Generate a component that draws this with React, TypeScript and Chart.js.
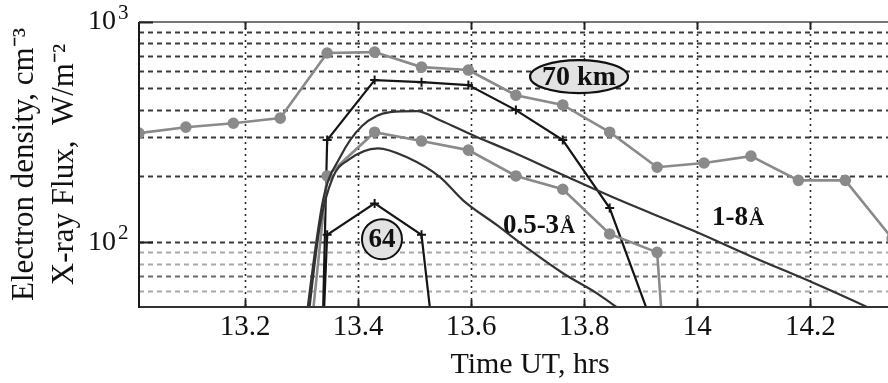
import React, { useEffect, useRef } from 'react';
import { Chart, registerables } from 'chart.js';

Chart.register(...registerables);

// ---- data ----
const markerTimes = [13.012, 13.095, 13.179, 13.262, 13.345, 13.429, 13.512, 13.595, 13.679, 13.762, 13.845, 13.929, 14.012, 14.095, 14.179, 14.262, 14.345];
const grayUpperValues = [313, 333, 347, 366, 723, 730, 624, 605, 465, 420, 316, 219, 229, 246, 191, 191, 104];
const grayLowerTimes = markerTimes.slice(3, 13);
const grayLowerValues = [1.8, 200, 316, 288, 262, 200, 174, 109, 90, 0.1];
const blackUpperTimes = markerTimes.slice(3, 12);
const blackUpperValues = [3e-7, 291, 545, 533, 517, 398, 291, 143, 37];
const blackLowerTimes = markerTimes.slice(3, 8);
const blackLowerValues = [0.0007, 108, 150, 108, 1.5];

const flux18Times = [13.2985, 13.3377, 13.3678, 13.4067, 13.4563, 13.504, 13.5447, 13.6031, 13.6739, 13.7624, 13.8633, 13.9925, 14.0987, 14.2032, 14.3023, 14.359];
const flux18Values = [29, 155, 243, 337, 390, 394, 358, 306, 256, 202, 155, 113, 85.5, 65.8, 50.6, 43.3];
const flux053Times = [13.306, 13.3323, 13.3553, 13.382, 13.435, 13.4863, 13.5447, 13.5855, 13.6456, 13.704, 13.7624, 13.8226, 13.858, 13.8987];
const flux053Values = [34, 119.5, 197.5, 236, 267, 243, 197.5, 155, 119.5, 92, 72.3, 58.6, 50.6, 43.3];

const xTickValues = [13.2, 13.4, 13.6, 13.8, 14.0, 14.2];
const xTickLabels = ['13.2', '13.4', '13.6', '13.8', '14', '14.2'];
const yTickValues = [60, 70, 80, 90, 100, 200, 300, 400, 500, 600, 700, 800, 900, 1000];
const yLabeledValues = [100, 1000];
const yLabelExponents = ['2', '3'];

const FONT = '"Liberation Serif", "Times New Roman", serif';

const pts = (t: number[], v: number[]) => t.map((x, i) => ({ x, y: v[i] }));

const gridPlugin = {
  id: 'customGrid',
  beforeDatasetsDraw(chart: any) {
    const { ctx, chartArea: a, scales } = chart;
    const x = scales.x, y = scales.y;
    ctx.save();
    y.ticks.forEach((t: any) => {
      const v = t.value;
      if (v >= 1000) return;
      const py = Math.round(y.getPixelForValue(v)) + 0.5;
      let col = '#3a3a3a';
      if (v === 60 || v === 80 || v === 90) col = '#a8a8a8';
      if (v === 70) col = '#6a6a6a';
      ctx.strokeStyle = col;
      ctx.lineWidth = 2;
      ctx.setLineDash([5, 4]);
      ctx.beginPath();
      ctx.moveTo(a.left, py);
      ctx.lineTo(a.right, py);
      ctx.stroke();
    });
    x.ticks.forEach((t: any) => {
      const px = Math.round(x.getPixelForValue(t.value)) + 0.5;
      ctx.strokeStyle = '#2a2a2a';
      ctx.lineWidth = 1.6;
      ctx.setLineDash([2, 4]);
      ctx.beginPath();
      ctx.moveTo(px, a.top);
      ctx.lineTo(px, a.bottom);
      ctx.stroke();
    });
    ctx.restore();
  },
};

const decorPlugin = {
  id: 'decor',
  afterDatasetsDraw(chart: any) {
    const { ctx, chartArea: a, scales } = chart;
    const x = scales.x, y = scales.y;
    ctx.save();
    ctx.setLineDash([]);
    ctx.lineWidth = 2;
    ctx.strokeStyle = '#777';
    ctx.beginPath(); ctx.moveTo(a.left, a.top); ctx.lineTo(a.right, a.top); ctx.stroke();
    ctx.strokeStyle = '#333';
    ctx.beginPath(); ctx.moveTo(a.left - 1, a.bottom); ctx.lineTo(a.right, a.bottom); ctx.stroke();
    ctx.strokeStyle = '#1a1a1a';
    ctx.beginPath(); ctx.moveTo(a.left, a.top); ctx.lineTo(a.left, a.bottom + 1); ctx.stroke();
    x.ticks.forEach((t: any) => {
      const px = Math.round(x.getPixelForValue(t.value)) + 0.5;
      ctx.strokeStyle = '#222';
      ctx.beginPath(); ctx.moveTo(px, a.bottom); ctx.lineTo(px, a.bottom - 7); ctx.stroke();
      ctx.beginPath(); ctx.moveTo(px, a.top); ctx.lineTo(px, a.top + 7); ctx.stroke();
    });
    yLabeledValues.forEach((v) => {
      const py = Math.round(y.getPixelForValue(v)) + 0.5;
      ctx.strokeStyle = '#222';
      ctx.beginPath(); ctx.moveTo(a.left, py); ctx.lineTo(a.left + 14, py); ctx.stroke();
    });
    ctx.fillStyle = '#111';
    ctx.font = '21px ' + FONT;
    ctx.textAlign = 'left';
    ctx.textBaseline = 'middle';
    yLabeledValues.forEach((v, i) => {
      const py = y.getPixelForValue(v);
      ctx.fillText(yLabelExponents[i], a.left - 21, py - 9);
    });

    const ex = x.getPixelForValue(13.7908), ey = y.getPixelForValue(564.7);
    ctx.beginPath();
    ctx.ellipse(ex, ey, 49, 16.5, 0, 0, Math.PI * 2);
    ctx.fillStyle = '#e2e2e2';
    ctx.fill();
    ctx.lineWidth = 2.2;
    ctx.strokeStyle = '#111';
    ctx.stroke();
    ctx.fillStyle = '#111';
    ctx.font = 'bold 28px ' + FONT;
    ctx.textAlign = 'center';
    ctx.textBaseline = 'middle';
    ctx.fillText('70 km', ex, ey + 1);

    const cx = x.getPixelForValue(13.442), cy = y.getPixelForValue(103.2);
    ctx.beginPath();
    ctx.arc(cx, cy, 20, 0, Math.PI * 2);
    ctx.fillStyle = '#e2e2e2';
    ctx.fill();
    ctx.lineWidth = 2;
    ctx.strokeStyle = '#111';
    ctx.stroke();
    ctx.fillStyle = '#111';
    ctx.font = 'bold 27px ' + FONT;
    ctx.fillText('64', cx, cy + 1);

    const drawBand = (tx: number, ty: number, main: string) => {
      const px = x.getPixelForValue(tx), py = y.getPixelForValue(ty);
      ctx.textAlign = 'left';
      ctx.textBaseline = 'alphabetic';
      ctx.font = 'bold 27px ' + FONT;
      ctx.fillText(main, px, py);
      const w = ctx.measureText(main).width;
      ctx.font = 'bold 21px ' + FONT;
      ctx.fillText('Å', px + w + 1, py);
    };
    drawBand(13.656, 109.9, '0.5-3');
    drawBand(14.026, 119.5, '1-8');
    ctx.restore();
  },
};

export default function App() {
  const ref = useRef<HTMLCanvasElement | null>(null);
  useEffect(() => {
    if (!ref.current) return;
    const gray = '#8a8a8a';
    const black = '#151515';
    const dark = '#333333';
    const chart = new Chart(ref.current, {
      type: 'line',
      data: {
        datasets: [
          { label: '1-8 Å', data: pts(flux18Times, flux18Values), borderColor: dark, borderWidth: 2.2, pointRadius: 0, cubicInterpolationMode: 'monotone', fill: false },
          { label: '0.5-3 Å', data: pts(flux053Times, flux053Values), borderColor: dark, borderWidth: 2.2, pointRadius: 0, cubicInterpolationMode: 'monotone', fill: false },
          { label: 'gray upper', data: pts(markerTimes, grayUpperValues), borderColor: gray, backgroundColor: gray, borderWidth: 2.6, pointRadius: 4.5, pointBackgroundColor: gray, pointBorderColor: gray, tension: 0, fill: false },
          { label: 'gray lower', data: pts(grayLowerTimes, grayLowerValues), borderColor: gray, backgroundColor: gray, borderWidth: 2.6, pointRadius: 4.5, pointBackgroundColor: gray, pointBorderColor: gray, tension: 0, fill: false },
          { label: 'black upper', data: pts(blackUpperTimes, blackUpperValues), borderColor: black, borderWidth: 2.2, pointStyle: 'cross', pointRadius: 4.5, pointBorderWidth: 2, pointBorderColor: black, tension: 0, fill: false },
          { label: 'black lower', data: pts(blackLowerTimes, blackLowerValues), borderColor: black, borderWidth: 2.2, pointStyle: 'cross', pointRadius: 4.5, pointBorderWidth: 2, pointBorderColor: black, tension: 0, fill: false },
        ],
      },
      options: {
        animation: false,
        responsive: false,
        layout: { autoPadding: false, padding: { top: 22, left: 0, right: 0, bottom: 0 } },
        plugins: { legend: { display: false }, tooltip: { enabled: false } },
        scales: {
          x: {
            type: 'linear',
            min: 13.012,
            max: 14.396,
            afterBuildTicks: (s: any) => { s.ticks = xTickValues.map((v) => ({ value: v })); },
            afterFit: (s: any) => { s.height = 76; s.paddingLeft = 0; s.paddingRight = 0; },
            grid: { display: false, drawTicks: false },
            border: { display: false },
            ticks: {
              autoSkip: false,
              maxRotation: 0,
              padding: 3,
              color: '#111',
              font: { family: FONT, size: 29, lineHeight: 1.2 },
              callback: (_v: any, i: number) => xTickLabels[i],
            },
            title: {
              display: true,
              text: 'Time UT, hrs',
              color: '#111',
              font: { family: FONT, size: 30, lineHeight: 1.2 },
              padding: { top: 0, bottom: 0 },
            },
          },
          y: {
            type: 'logarithmic',
            min: 50.8,
            max: 1000,
            afterBuildTicks: (s: any) => { s.ticks = yTickValues.map((v) => ({ value: v })); },
            afterFit: (s: any) => { s.width = 139; s.paddingTop = 0; s.paddingBottom = 0; },
            grid: { display: false, drawTicks: false },
            border: { display: false },
            ticks: {
              autoSkip: false,
              padding: 23,
              color: '#111',
              font: { family: FONT, size: 28, lineHeight: 1.2 },
              callback: (v: any) => (yLabeledValues.indexOf(Number(v)) >= 0 ? '10' : ''),
            },
            title: {
              display: true,
              text: ['Electron density, cm\u207B\u00B3', 'X-ray Flux,  W/m\u207B\u00B2'],
              color: '#111',
              font: { family: FONT, size: 31, lineHeight: 1.29 },
              padding: { top: 5, bottom: 0 },
            },
          },
        },
      },
      plugins: [gridPlugin, decorPlugin],
    } as any);
    return () => chart.destroy();
  }, []);

  return (
    <div style={{ position: 'absolute', left: 0, top: 0, width: 888, height: 383, overflow: 'hidden', background: '#fff' }}>
      <canvas ref={ref} width={921} height={383} style={{ display: 'block', width: 921, height: 383 }} />
    </div>
  );
}
